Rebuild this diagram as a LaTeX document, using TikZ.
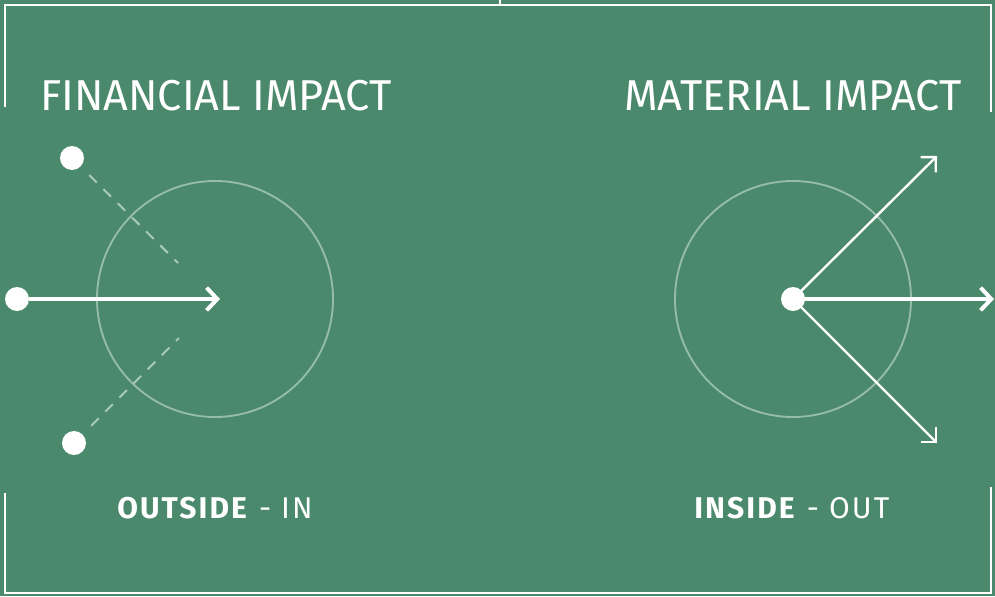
\documentclass[tikz,border=0pt]{standalone}
\usepackage{fontspec}
\setmainfont{Fira Sans}
\usetikzlibrary{arrows.meta}
\definecolor{bg}{RGB}{74,137,108}
\definecolor{ring}{RGB}{150,188,170}
\definecolor{dashc}{RGB}{170,201,186}
\begin{document}
\begin{tikzpicture}[x=0.75pt,y=-0.75pt,
  frame/.style={draw=white,line width=1.5pt},
  dot/.style={circle,fill=white,inner sep=0pt,minimum size=18pt},
  ring/.style={circle,draw=ring,line width=1.4pt,inner sep=0pt,minimum size=177pt},
  mainarrow/.style={draw=white,line width=3pt,-{Straight Barb[length=8pt,width=17pt,line width=3pt]}},
  thinarrow/.style={draw=white,line width=1.8pt,-{Straight Barb[length=8pt,width=16pt,line width=1.8pt]}},
  dashline/.style={draw=dashc,line width=1.5pt,dash pattern=on 8pt off 7pt},
  title/.style={text=white,font=\fontsize{32.4}{36}\selectfont,inner sep=0pt,anchor=base west},
  sub/.style={text=white,font=\fontsize{22.5}{25}\selectfont\addfontfeature{LetterSpace=7},inner sep=0pt,anchor=base west}]
\fill[bg] (0,0) rectangle (995,596);
\useasboundingbox (0,0) rectangle (995,596);
% frame
\draw[frame] (5,107) -- (5,5) -- (991,5) -- (991,112);
\draw[frame] (500,0) -- (500,5);
\draw[frame] (5,493) -- (5,593) -- (991,593) -- (991,487);
% titles
\node[title] (t1) at (40,110) {FINANCIAL IMPACT};
\node[title] (t2) at (624,110) {MATERIAL IMPACT};
\node[sub] (s1) at (117,518) {\textbf{OUTSIDE} - IN};
\node[sub] (s2) at (694,518) {\textbf{INSIDE} - OUT};
% left
\node[ring] (lring) at (215,299) {};
\node[dot] (l1) at (72,158) {};
\node[dot] (l2) at (17,299) {};
\node[dot] (l3) at (74,443) {};
\coordinate (lt) at (220,299);
\coordinate (lc1) at (178,263);
\coordinate (lc3) at (179,338);
\draw[mainarrow] (l2) -- (lt);
\draw[dashline,shorten <=9pt] (l1) -- (lc1);
\draw[dashline,shorten <=9pt] (l3) -- (lc3);
% right
\node[ring] (rring) at (793,299) {};
\node[dot] (rc) at (793,299) {};
\coordinate (r1) at (937,156);
\coordinate (r2) at (994,299);
\coordinate (r3) at (937,443);
\draw[mainarrow] (rc.center) -- (r2);
\draw[thinarrow] (rc.center) -- (r1);
\draw[thinarrow] (rc.center) -- (r3);
\end{tikzpicture}
\end{document}
